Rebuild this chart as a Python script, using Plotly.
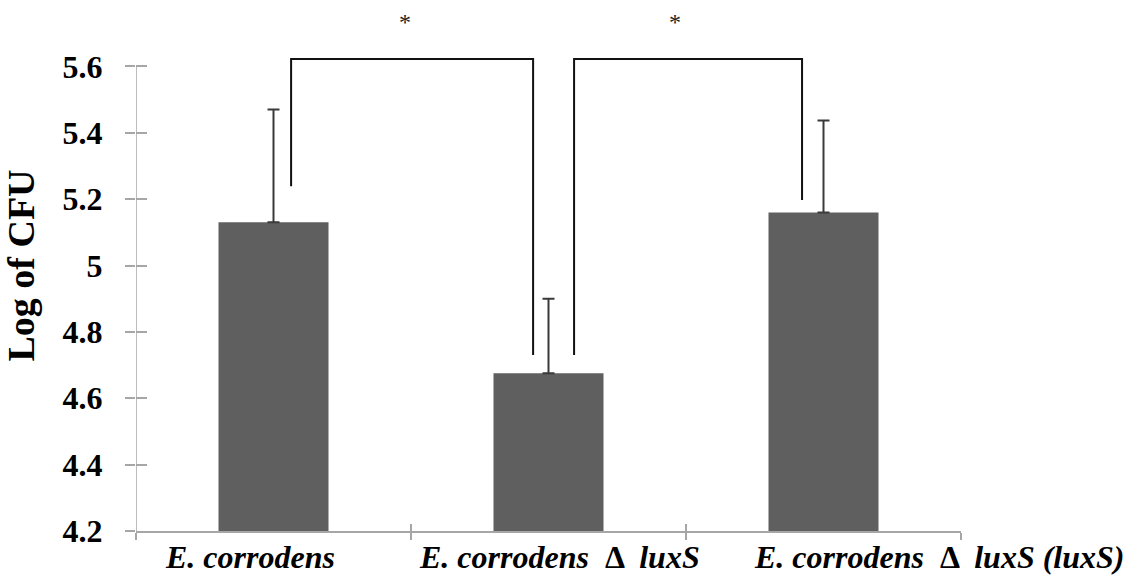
import plotly.graph_objects as go

categories = ["<i>E. corrodens</i>", "<i>E. corrodens</i>  Δ  <i>luxS</i>", "<i>E. corrodens</i>  Δ  <i>luxS</i> <i>(luxS)</i>"]
means = [5.13, 4.675, 5.16]
errors = [0.34, 0.225, 0.277]
ytick_vals = [4.2, 4.4, 4.6, 4.8, 5.0, 5.2, 5.4, 5.6]
ytick_text = ["4.2", "4.4", "4.6", "4.8", "5", "5.2", "5.4", "5.6"]

# significance brackets: (x_left, x_right, y_top, left_leg_bottom, right_leg_bottom)
brackets = [
    (0.064, 0.944, 5.622, 5.239, 4.73),
    (1.093, 1.922, 5.622, 4.73, 5.197),
]
star_x = [0.478, 1.46]
star_y = 5.735
label_x = [-0.085, 1.04, 2.42]

xs = list(range(len(categories)))

fig = go.Figure()
fig.add_trace(go.Bar(
    x=xs, y=[m - 4.2 for m in means], base=4.2, width=0.4,
    marker=dict(color="#5f5f5f", line=dict(width=0)),
    error_y=dict(type="data", array=errors, arrayminus=[0]*3, symmetric=False,
                 color="#3a3a3a", thickness=2, width=6),
    showlegend=False, hoverinfo="skip",
))

for (xl, xr, yt, yl, yr) in brackets:
    fig.add_trace(go.Scatter(
        x=[xl, xl, xr, xr], y=[yl, yt, yt, yr], mode="lines",
        line=dict(color="#111111", width=2), showlegend=False, hoverinfo="skip",
    ))

annotations = []
for sx in star_x:
    annotations.append(dict(x=sx, y=star_y, xref="x", yref="y", text="*", showarrow=False,
                            font=dict(family="Liberation Serif", size=24, color="#222")))
for lx, cat in zip(label_x, categories):
    annotations.append(dict(x=lx, y=0, xref="x", yref="paper", yanchor="top", yshift=-6,
                            text="<b>" + cat + "</b>", showarrow=False,
                            font=dict(family="Liberation Serif", size=32, color="#000")))

axis_color = "#a6a6a6"
fig.update_layout(
    width=1131, height=582,
    margin=dict(l=136, r=170, t=0, b=51, autoexpand=False),
    plot_bgcolor="white", paper_bgcolor="white",
    annotations=annotations,
    shapes=[dict(type="line", xref="x", yref="y", x0=-0.5, x1=-0.5, y0=4.2, y1=5.6,
                 line=dict(color=axis_color, width=1.5))],
    xaxis=dict(range=[-0.5, 2.5], tickvals=[-0.5, 0.5, 1.5, 2.5], showticklabels=False,
               ticks="outside", ticklen=7, tickcolor=axis_color, tickwidth=1.5, automargin=False,
               showline=True, linecolor=axis_color, linewidth=1.5, showgrid=False, zeroline=False),
    xaxis2=dict(range=[-0.5, 2.5], overlaying="x", tickvals=[-0.5, 0.5, 1.5, 2.5], showticklabels=False,
                ticks="inside", ticklen=7, tickcolor=axis_color, tickwidth=1.5, automargin=False,
                showline=False, showgrid=False, zeroline=False),
    yaxis=dict(range=[4.2, 5.8], tickvals=ytick_vals, ticktext=ytick_text, automargin=False,
               ticks="outside", ticklen=10, tickcolor=axis_color, tickwidth=1.5,
               showline=False, showgrid=False, zeroline=False, ticklabelstandoff=16,
               tickfont=dict(family="Liberation Serif", size=32, color="#000", weight="bold"),
               title=dict(text="<b>Log of CFU</b>", standoff=17,
                          font=dict(family="Liberation Serif", size=38, color="#000"))),
    yaxis2=dict(range=[4.2, 5.8], overlaying="y", tickvals=ytick_vals, showticklabels=False,
                ticks="inside", ticklen=11, tickcolor=axis_color, tickwidth=1.5, automargin=False,
                showline=False, showgrid=False, zeroline=False),
)
# dummy trace to activate overlay axes
fig.add_trace(go.Scatter(x=[0], y=[4.2], xaxis="x2", yaxis="y2", mode="markers",
                         marker=dict(opacity=0), showlegend=False, hoverinfo="skip"))
fig.write_html("out.html", config={"displayModeBar": False},
               post_script="document.body.style.margin='0';")
